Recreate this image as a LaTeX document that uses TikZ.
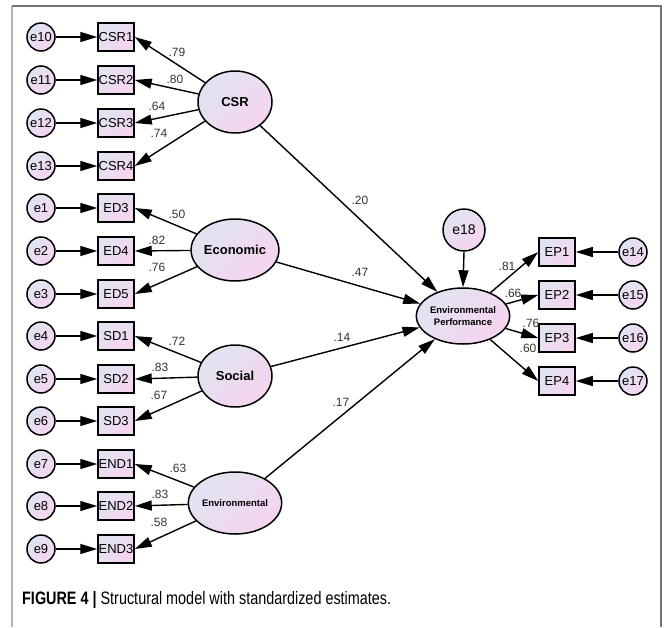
\documentclass[tikz,border=0pt]{standalone}
\usepackage{fontspec}
\setmainfont{Liberation Sans}
\usetikzlibrary{shapes.geometric,arrows.meta}
\definecolor{shA}{RGB}{224,228,240}
\definecolor{shB}{RGB}{246,212,240}
\tikzset{
 fillsh/.style={top color=shA, bottom color=shB, shading angle=45},
 errc/.style={circle, draw=black, line width=1.5pt, fillsh, minimum size=28pt, inner sep=0pt, font=\fontsize{13}{14}\selectfont},
 obsbox/.style={rectangle, draw=black, line width=1.5pt, fillsh, minimum width=36pt, minimum height=28pt, inner sep=0pt, font=\fontsize{13}{14}\selectfont},
 latent/.style={ellipse, draw=black, line width=1.5pt, fillsh, minimum width=74pt, minimum height=62pt, inner sep=0pt, font=\bfseries\fontsize{13}{14}\selectfont},
 arr/.style={line width=1.4pt, -{Triangle[length=17pt,width=10pt]}},
 lbl/.style={font=\fontsize{12}{13}\selectfont, text=black!80, inner sep=0pt},
}
\begin{document}
\begin{tikzpicture}[x=1pt,y=-1pt]
\useasboundingbox (0,0) rectangle (664,627);
% frame
\draw[black!30, line width=1.5pt] (12,627) -- (12,6);
\draw[black!55, line width=1.2pt] (12,6) -- (661,6) -- (661,627);

% latents
\node[latent] (csr) at (235,102) {CSR};
\node[latent] (eco) at (235,250) {Economic};
\node[latent] (soc) at (235,376) {Social};
\node[latent, font=\bfseries\fontsize{9.5}{11}\selectfont] (env) at (235,503) {Environmental};
\node[latent, minimum height=56pt, font=\bfseries\fontsize{9.5}{12}\selectfont, align=center] (ep) at (463,316) {Environmental\\Performance};
\node[errc, minimum size=42pt, font=\fontsize{14}{15}\selectfont] (e18) at (464,230) {e18};

% left indicators
\node[obsbox] (csr1) at (116,37) {CSR1};
\node[obsbox] (csr2) at (116,80) {CSR2};
\node[obsbox] (csr3) at (116,123) {CSR3};
\node[obsbox] (csr4) at (116,166) {CSR4};
\node[obsbox] (ed3) at (116,208) {ED3};
\node[obsbox] (ed4) at (116,251) {ED4};
\node[obsbox] (ed5) at (116,294) {ED5};
\node[obsbox] (sd1) at (116,336) {SD1};
\node[obsbox] (sd2) at (116,379) {SD2};
\node[obsbox] (sd3) at (116,421) {SD3};
\node[obsbox] (end1) at (116,464) {END1};
\node[obsbox] (end2) at (116,506) {END2};
\node[obsbox] (end3) at (116,549) {END3};

\node[errc] (e10) at (41,37) {e10};
\node[errc] (e11) at (41,80) {e11};
\node[errc] (e12) at (41,123) {e12};
\node[errc] (e13) at (41,166) {e13};
\node[errc] (e1) at (41,208) {e1};
\node[errc] (e2) at (41,251) {e2};
\node[errc] (e3) at (41,294) {e3};
\node[errc] (e4) at (41,336) {e4};
\node[errc] (e5) at (41,379) {e5};
\node[errc] (e6) at (41,421) {e6};
\node[errc] (e7) at (41,464) {e7};
\node[errc] (e8) at (41,506) {e8};
\node[errc] (e9) at (41,549) {e9};

% right indicators
\node[obsbox] (ep1) at (557,252) {EP1};
\node[obsbox] (ep2) at (557,295) {EP2};
\node[obsbox] (ep3) at (557,338) {EP3};
\node[obsbox] (ep4) at (557,381) {EP4};
\node[errc] (e14) at (633,252) {e14};
\node[errc] (e15) at (633,295) {e15};
\node[errc] (e16) at (633,338) {e16};
\node[errc] (e17) at (633,381) {e17};

% error arrows
\foreach \e/\b in {e10/csr1,e11/csr2,e12/csr3,e13/csr4,e1/ed3,e2/ed4,e3/ed5,e4/sd1,e5/sd2,e6/sd3,e7/end1,e8/end2,e9/end3}
  \draw[arr] (\e.east) -- (\b.west);
\foreach \e/\b in {e14/ep1,e15/ep2,e16/ep3,e17/ep4}
  \draw[arr] (\e.west) -- (\b.east);
\draw[arr] (e18.south) -- (ep.north);

% loadings
\foreach \l/\b in {csr/csr1,csr/csr2,csr/csr3,csr/csr4,eco/ed3,eco/ed4,eco/ed5,soc/sd1,soc/sd2,soc/sd3,env/end1,env/end2,env/end3}
  \draw[arr] (\l) -- (\b.east);
\foreach \b in {ep1,ep2,ep3,ep4}
  \draw[arr] (ep) -- (\b.west);

% structural
\draw[arr] (csr) -- (ep);
\draw[arr] (eco) -- (ep);
\draw[arr] (soc) -- (ep);
\draw[arr] (env) -- (ep);

% labels
\node[lbl] (l1) at (177,52) {.79};
\node[lbl] (l2) at (175,79) {.80};
\node[lbl] (l3) at (157,106) {.64};
\node[lbl] (l4) at (159,133) {.74};
\node[lbl] (l5) at (177,214) {.50};
\node[lbl] (l6) at (157,240) {.82};
\node[lbl] (l7) at (157,267) {.76};
\node[lbl] (l8) at (177,341) {.72};
\node[lbl] (l9) at (160,367) {.83};
\node[lbl] (l10) at (159,395) {.67};
\node[lbl] (l11) at (178,468) {.63};
\node[lbl] (l12) at (160,494) {.83};
\node[lbl] (l13) at (159,522) {.58};
\node[lbl] (l14) at (360,200) {.20};
\node[lbl] (l15) at (360,272) {.47};
\node[lbl] (l16) at (342,337) {.14};
\node[lbl] (l17) at (341,402) {.17};
\node[lbl] (l18) at (507,266) {.81};
\node[lbl] (l19) at (513,293) {.66};
\node[lbl] (l20) at (531,323) {.76};
\node[lbl] (l21) at (528,348) {.60};

% caption
\node[anchor=west, inner sep=0pt] (cap) at (22,600) {\scalebox{0.8}[1]{\fontsize{18}{20}\selectfont\textbf{FIGURE 4 |} Structural model with standardized estimates.}};
\end{tikzpicture}
\end{document}
